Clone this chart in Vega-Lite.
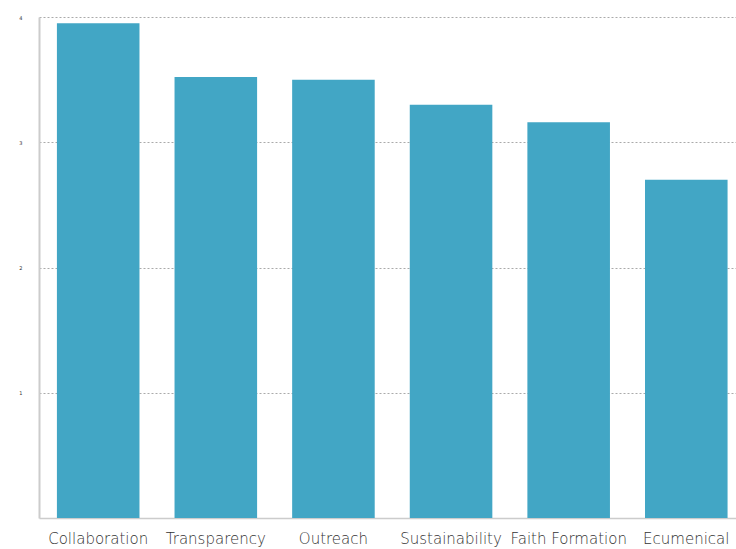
{
  "$schema": "https://vega.github.io/schema/vega-lite/v6.json",
  "autosize": "none",
  "width": 697,
  "height": 501,
  "padding": {"left": 39, "top": 17, "right": 0, "bottom": 31},
  "background": "white",
  "data": {"values": [
    {"category": "Collaboration", "value": 3.95},
    {"category": "Transparency", "value": 3.52},
    {"category": "Outreach", "value": 3.5},
    {"category": "Sustainability", "value": 3.3},
    {"category": "Faith Formation", "value": 3.16},
    {"category": "Ecumenical", "value": 2.7}
  ]},
  "config": {
    "view": {"stroke": null},
    "font": "DejaVu Sans"
  },
  "mark": {"type": "bar", "color": "#42a6c5"},
  "encoding": {
    "x": {
      "field": "category", "type": "nominal", "sort": null,
      "scale": {"paddingInner": 0.298, "paddingOuter": 0.112, "align": 0.68},
      "axis": {
        "title": null, "labelAngle": 0, "labelFontSize": 15, "labelColor": "#333333",
        "labelPadding": 13, "ticks": false, "domainColor": "#cccccc", "domainWidth": 1.5,
        "labelFont": "DejaVu Sans", "labelFontWeight": 300, "labelOverlap": false
      }
    },
    "y": {
      "field": "value", "type": "quantitative",
      "scale": {"domain": [0, 4], "nice": false},
      "axis": {
        "title": null, "values": [1, 2, 3, 4], "labelFontSize": 5, "labelColor": "#333333",
        "labelPadding": 17, "ticks": false, "domain": true, "domainColor": "#cccccc", "domainWidth": 2,
        "grid": true, "gridDash": [2, 2], "gridColor": "#aaaaaa", "gridWidth": 1
      }
    }
  }
}
